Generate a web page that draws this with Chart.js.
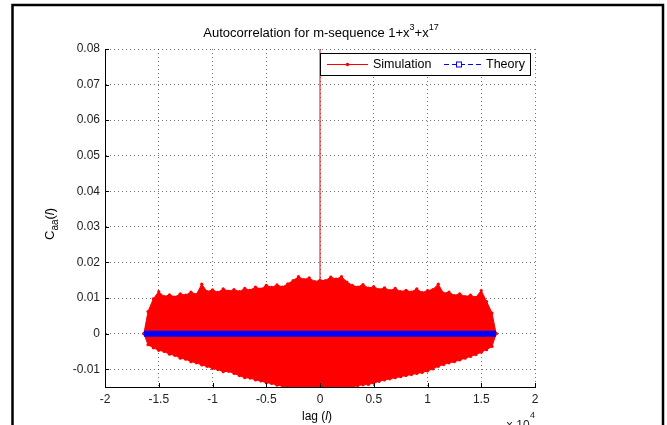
<!DOCTYPE html>
<html>
<head>
<meta charset="utf-8">
<script src="https://cdn.jsdelivr.net/npm/chart.js@4/dist/chart.umd.min.js"></script>
<style>
    body { margin: 0; background: #fff; }
    canvas { display: block; }
</style>
</head>
<body>
<canvas id="acChart" width="667" height="425"></canvas>
<script>
// Simulated autocorrelation: upper / lower edge of the dense stem cloud
const simLags = [-16383, -16000, -15500, -15000, -14500, -14000, -13500, -13000, -12500, -12000,
    -11500, -11000, -10500, -10000, -9500, -9000, -8500, -8000, -7500, -7000,
    -6500, -6000, -5500, -5000, -4500, -4000, -3500, -3000, -2500, -2000,
    -1500, -1000, -500, 0, 500, 1000, 1500, 2000, 2500, 3000,
    3500, 4000, 4500, 5000, 5500, 6000, 6500, 7000, 7500, 8000,
    8500, 9000, 9500, 10000, 10500, 11000, 11500, 12000, 12500, 13000,
    13500, 14000, 14500, 15000, 15500, 16000, 16383];
const simUpper = [0, 0.0062, 0.0098, 0.0118, 0.0104, 0.0109, 0.0103, 0.0112, 0.0108, 0.0117,
    0.0110, 0.0139, 0.0118, 0.0123, 0.0116, 0.0126, 0.0119, 0.0124, 0.0118, 0.0127,
    0.0122, 0.0131, 0.0125, 0.0136, 0.0130, 0.0137, 0.0131, 0.0140, 0.0149, 0.0160,
    0.0152, 0.0157, 0.0146, 0.0150, 0.0149, 0.0159, 0.0153, 0.0160, 0.0145, 0.0136,
    0.0131, 0.0138, 0.0128, 0.0132, 0.0124, 0.0129, 0.0121, 0.0127, 0.0118, 0.0122,
    0.0117, 0.0126, 0.0115, 0.0121, 0.0124, 0.0139, 0.0113, 0.0117, 0.0107, 0.0112,
    0.0104, 0.0108, 0.0102, 0.0121, 0.0090, 0.0058, 0];
const simLower = [0, -0.0031, -0.0040, -0.0047, -0.0050, -0.0058, -0.0061, -0.0069, -0.0072, -0.0079,
    -0.0082, -0.0088, -0.0092, -0.0098, -0.0101, -0.0107, -0.0106, -0.0112, -0.0118, -0.0124,
    -0.0125, -0.0130, -0.0133, -0.0138, -0.0140, -0.0145, -0.0147, -0.0151, -0.0155, -0.0158,
    -0.0156, -0.0159, -0.0155, -0.0157, -0.0154, -0.0160, -0.0156, -0.0156, -0.0153, -0.0150,
    -0.0146, -0.0144, -0.0143, -0.0139, -0.0134, -0.0130, -0.0127, -0.0124, -0.0121, -0.0118,
    -0.0115, -0.0112, -0.0109, -0.0105, -0.0099, -0.0092, -0.0087, -0.0082, -0.0079, -0.0074,
    -0.0069, -0.0064, -0.0059, -0.0052, -0.0045, -0.0036, 0];
// peak at lag 0 (normalised to 1, runs off the top)
const peakLags = [0, 0];
const peakValues = [0, 1];
// Theory
const theoryLags = [-16383, 16383];
const theoryValues = [0, 0];

const xTickValues = [-20000, -15000, -10000, -5000, 0, 5000, 10000, 15000, 20000];
const xTickLabels = ['-2', '-1.5', '-1', '-0.5', '0', '0.5', '1', '1.5', '2'];
const yTickValues = [-0.01, 0, 0.01, 0.02, 0.03, 0.04, 0.05, 0.06, 0.07, 0.08];
const yTickLabels = ['-0.01', '0', '0.01', '0.02', '0.03', '0.04', '0.05', '0.06', '0.07', '0.08'];

const RED = '#ff0000';
const BLUE = '#0000ff';
const FONT = '"Liberation Sans", Arial, sans-serif';

const toPts = (xs, ys) => xs.map((x, i) => ({ x: x, y: ys[i] }));

// draws frame, title, axis labels, inward ticks and the MATLAB style legend
const decor = {
    id: 'decor',
    beforeDraw(chart) {
        const c = chart.ctx;
        c.save();
        c.fillStyle = '#fff';
        c.fillRect(0, 0, chart.width, chart.height);
        c.restore();
    },
    afterDraw(chart) {
        const c = chart.ctx;
        const a = chart.chartArea;
        const xs = chart.scales.x, ys = chart.scales.y;
        c.save();

        // inward ticks
        c.strokeStyle = '#000';
        c.lineWidth = 1;
        c.beginPath();
        yTickValues.forEach(v => {
            const y = Math.round(ys.getPixelForValue(v)) + 0.5;
            c.moveTo(a.left, y); c.lineTo(a.left + 4, y);
        });
        xTickValues.forEach(v => {
            const x = Math.round(xs.getPixelForValue(v)) + 0.5;
            c.moveTo(x, a.bottom); c.lineTo(x, a.bottom - 4);
        });
        c.stroke();

        // title with superscripts
        c.fillStyle = '#000';
        c.textBaseline = 'alphabetic';
        const parts = [['Autocorrelation for m-sequence 1+x', 0], ['3', 1], ['+x', 0], ['17', 1]];
        let w = 0;
        parts.forEach(p => { c.font = (p[1] ? '9px ' : '13px ') + FONT; w += c.measureText(p[0]).width; });
        let tx = 321 - w / 2;
        parts.forEach(p => {
            c.font = (p[1] ? '9px ' : '13px ') + FONT;
            c.fillText(p[0], tx, p[1] ? 30 : 37);
            tx += c.measureText(p[0]).width;
        });

        // x label
        c.font = '12px ' + FONT;
        c.textAlign = 'left';
        let lx = 302;
        c.fillText('lag (', lx, 420); lx += c.measureText('lag (').width;
        c.font = 'italic 12px ' + FONT;
        c.fillText('l', lx, 420); lx += c.measureText('l').width;
        c.font = '12px ' + FONT;
        c.fillText(')', lx, 420);

        // x10^4
        c.font = '12px ' + FONT;
        c.fillStyle = '#222';
        c.fillText('\u00d7 10', 506, 429);
        c.font = '9px ' + FONT;
        c.fillText('4', 530, 418);

        // y label, rotated
        c.fillStyle = '#000';
        c.translate(54, 240);
        c.rotate(-Math.PI / 2);
        c.font = '13px ' + FONT;
        let ly = 0;
        c.fillText('C', ly, 0); ly += c.measureText('C').width;
        c.font = '10px ' + FONT;
        c.fillText('aa', ly, 4); ly += c.measureText('aa').width;
        c.font = '13px ' + FONT;
        c.fillText('(', ly, 0); ly += c.measureText('(').width;
        c.font = 'italic 13px ' + FONT;
        c.fillText('l', ly, 0); ly += c.measureText('l').width;
        c.font = '13px ' + FONT;
        c.fillText(')', ly, 0);
        c.setTransform(1, 0, 0, 1, 0, 0);

        // legend
        c.fillStyle = '#fff';
        c.fillRect(320.5, 53.5, 210, 22);
        c.strokeStyle = '#000';
        c.lineWidth = 1;
        c.strokeRect(320.5, 53.5, 210, 22);
        const my = 64.5;
        c.strokeStyle = RED;
        c.beginPath(); c.moveTo(327, my); c.lineTo(368, my); c.stroke();
        c.fillStyle = RED;
        c.beginPath(); c.arc(347.5, my, 1.8, 0, Math.PI * 2); c.fill();
        c.fillStyle = '#000';
        c.font = '12.5px ' + FONT;
        c.textBaseline = 'middle';
        c.fillText(chart.data.datasets[1].label, 373, 65);
        c.strokeStyle = BLUE;
        c.setLineDash([5, 3]);
        c.beginPath(); c.moveTo(444, my); c.lineTo(482, my); c.stroke();
        c.setLineDash([]);
        c.fillStyle = '#fff';
        c.fillRect(456, my - 3, 6, 6);
        c.strokeRect(456.5, my - 2.5, 5, 5);
        c.fillStyle = '#000';
        c.fillText(chart.data.datasets[3].label, 486, 65);

        // figure frame
        c.strokeStyle = '#000';
        c.lineWidth = 2.5;
        c.beginPath();
        c.moveTo(12.5, 430); c.lineTo(12.5, 5); c.lineTo(663, 5); c.lineTo(663, 430);
        c.stroke();
        c.restore();
    }
};

const ctx = document.getElementById('acChart').getContext('2d');
const acChart = new Chart(ctx, {
    type: 'line',
    data: {
        datasets: [{
            label: 'Simulation lower',
            data: toPts(simLags, simLower),
            borderColor: RED,
            borderWidth: 1,
            pointRadius: 1.6,
            pointBackgroundColor: RED,
            pointBorderWidth: 0,
            fill: false,
            order: 3
        }, {
            label: 'Simulation',
            data: toPts(simLags, simUpper),
            borderColor: RED,
            borderWidth: 1,
            backgroundColor: RED,
            pointRadius: 1.6,
            pointBackgroundColor: RED,
            pointBorderWidth: 0,
            fill: '-1',
            order: 2
        }, {
            label: 'Simulation peak',
            data: toPts(peakLags, peakValues),
            borderColor: RED,
            borderWidth: 1,
            pointRadius: 0,
            fill: false,
            order: 1
        }, {
            label: 'Theory',
            data: toPts(theoryLags, theoryValues),
            borderColor: BLUE,
            borderWidth: 6,
            borderCapStyle: 'butt',
            pointRadius: 0,
            fill: false,
            order: 0
        }]
    },
    options: {
        responsive: false,
        animation: false,
        devicePixelRatio: 1,
        layout: { padding: { left: 0, top: 49, right: 132, bottom: 0 } },
        plugins: {
            legend: { display: false },
            title: { display: false },
            tooltip: { enabled: false }
        },
        scales: {
            x: {
                type: 'linear',
                min: -20000,
                max: 20000,
                afterFit: s => { s.height = 38; },
                afterBuildTicks: s => { s.ticks = xTickValues.map(v => ({ value: v })); },
                ticks: {
                    padding: 5,
                    color: '#222',
                    font: { family: FONT, size: 12 },
                    maxRotation: 0,
                    callback: (v) => xTickLabels[xTickValues.indexOf(v)]
                },
                grid: { color: 'rgba(0,0,0,0.55)', drawTicks: false },
                border: { color: '#000', width: 1, dash: [1, 3] }
            },
            y: {
                min: -0.015,
                max: 0.08,
                afterFit: s => { s.width = 105; },
                afterBuildTicks: s => { s.ticks = yTickValues.map(v => ({ value: v })); },
                ticks: {
                    padding: 5,
                    color: '#222',
                    font: { family: FONT, size: 12 },
                    callback: (v, i) => yTickLabels[i]
                },
                grid: { color: 'rgba(0,0,0,0.55)', drawTicks: false },
                border: { color: '#000', width: 1, dash: [1, 3] }
            }
        }
    },
    plugins: [decor]
});
</script>
</body>
</html>
